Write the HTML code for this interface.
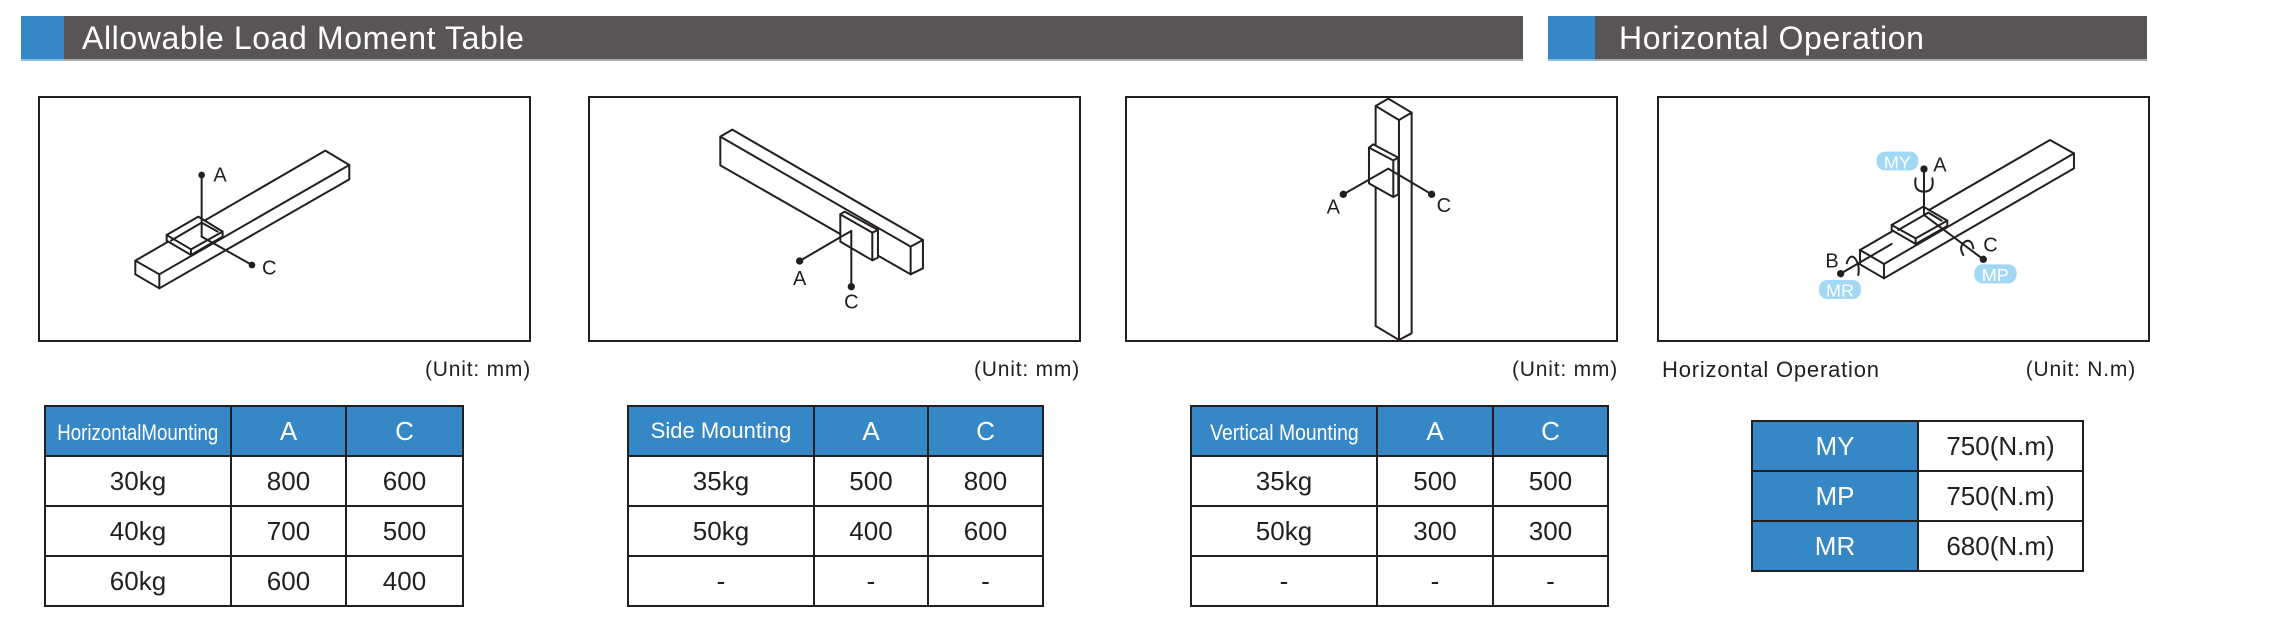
<!DOCTYPE html>
<html><head><meta charset="utf-8"><style>
*{margin:0;padding:0;box-sizing:border-box}
body{width:2276px;height:624px;background:#fff;position:relative;overflow:hidden;font-family:"Liberation Sans",sans-serif;color:#231f20}
.bar{position:absolute;top:16px;height:45px;background:#595557;border-bottom:2px solid #aaa}
.blue{position:absolute;top:16px;height:45px;background:#3587c6;border-bottom:2px solid #8bbde0}
.title{position:absolute;top:19px;color:#fff;font-size:32px;line-height:38px;letter-spacing:0.6px}
.box{position:absolute;top:96px;height:246px;border:2.5px solid #231f20}
.unit{position:absolute;top:357px;font-size:21px;line-height:26px;letter-spacing:0.8px}
table{position:absolute;border-collapse:collapse;table-layout:fixed}
td{border:2.5px solid #231f20;text-align:center;font-size:26px;height:50px;padding:0}
td.h{background:#3587c6;color:#fff;font-size:26px}
</style></head><body>
<div class="blue" style="left:21px;width:43px"></div>
<div class="bar" style="left:64px;width:1459px"></div>
<div class="title" style="left:82px">Allowable Load Moment Table</div>
<div class="blue" style="left:1548px;width:47px"></div>
<div class="bar" style="left:1595px;width:552px"></div>
<div class="title" style="left:1619px">Horizontal Operation</div>

<div class="box" style="left:38px;width:493px"></div>
<div class="box" style="left:588px;width:493px"></div>
<div class="box" style="left:1125px;width:493px"></div>
<div class="box" style="left:1657px;width:493px"></div>

<div class="unit" style="right:1745px">(Unit: mm)</div>
<div class="unit" style="right:1196px">(Unit: mm)</div>
<div class="unit" style="right:658px">(Unit: mm)</div>
<div class="unit" style="left:1662px;font-size:22px">Horizontal Operation</div>
<div class="unit" style="right:140px">(Unit: N.m)</div>

<svg width="2276" height="624" style="position:absolute;left:0;top:0" fill="none" stroke="#231f20" stroke-linejoin="round" stroke-linecap="round">
<g transform="translate(36 90) scale(0.3333)" stroke-width="6">
 <polygon points="298,512 868,182 940,225 940,268 370,595 298,553" fill="#fff"/>
 <line x1="298" y1="512" x2="370" y2="553"/><line x1="370" y1="553" x2="940" y2="225"/><line x1="370" y1="553" x2="370" y2="595"/>
 <polygon points="392,435 487,380 560,425 560,440 465,495 392,452" fill="#fff"/>
 <polyline points="392,435 465,478 560,425"/><line x1="465" y1="478" x2="465" y2="495"/>
 <polyline points="405,452 497,398 545,425"/>
 <line x1="497" y1="255" x2="497" y2="440"/><line x1="497" y1="440" x2="648" y2="525"/>
 <circle cx="497" cy="255" r="10" fill="#231f20" stroke="none"/><circle cx="648" cy="525" r="10" fill="#231f20" stroke="none"/>
 <text x="532" y="275" font-size="60" fill="#231f20" stroke="none">A</text>
 <text x="678" y="553" font-size="60" fill="#231f20" stroke="none">C</text>
</g>
<g transform="translate(588 96) scale(0.3333)" stroke-width="6">
 <polygon points="397,122 433,101 1005,432 1005,517 968,535 397,208" fill="#fff"/>
 <line x1="397" y1="122" x2="968" y2="452"/><line x1="968" y1="452" x2="1005" y2="432"/><line x1="968" y1="452" x2="968" y2="535"/>
 <polygon points="757,355 770,347 870,402 870,485 853,493 757,437" fill="#fff"/>
 <polyline points="757,355 853,410 870,402"/><line x1="853" y1="410" x2="853" y2="493"/>
 <line x1="790" y1="405" x2="790" y2="572"/><polyline points="790,405 760,422 635,495"/>
 <circle cx="635" cy="495" r="11" fill="#231f20" stroke="none"/><circle cx="790" cy="572" r="11" fill="#231f20" stroke="none"/>
 <text x="635" y="567" font-size="60" text-anchor="middle" fill="#231f20" stroke="none">A</text>
 <text x="790" y="637" font-size="60" text-anchor="middle" fill="#231f20" stroke="none">C</text>
</g>
<g transform="translate(1125 96) scale(0.3333)" stroke-width="6">
 <polygon points="752,30 790,8 860,50 860,712 822,732 752,690" fill="#fff"/>
 <polyline points="752,30 822,72 860,50"/><line x1="822" y1="72" x2="822" y2="732"/>
 <polygon points="732,155 745,145 820,185 820,295 805,303 732,262" fill="#fff"/>
 <polyline points="732,155 805,193 820,185"/><line x1="805" y1="193" x2="805" y2="303"/>
 <polyline points="655,295 790,218 920,295"/>
 <circle cx="655" cy="295" r="11" fill="#231f20" stroke="none"/><circle cx="920" cy="295" r="11" fill="#231f20" stroke="none"/>
 <text x="605" y="352" font-size="60" fill="#231f20" stroke="none">A</text>
 <text x="935" y="348" font-size="60" fill="#231f20" stroke="none">C</text>
</g>
<g transform="translate(1650 90) scale(0.3333)" stroke-width="6">
 <polygon points="630,480 1200,150 1272,190 1272,235 702,565 630,523" fill="#fff"/>
 <line x1="630" y1="480" x2="702" y2="522"/><line x1="702" y1="522" x2="1272" y2="190"/><line x1="702" y1="522" x2="702" y2="565"/>
 <polygon points="725,405 820,350 892,392 892,408 797,462 725,420" fill="#fff"/>
 <polyline points="725,405 797,445 892,392"/><line x1="797" y1="445" x2="797" y2="462"/>
 <polyline points="745,420 835,368 875,392"/>
 <line x1="822" y1="237" x2="822" y2="375"/><line x1="822" y1="375" x2="1000" y2="508"/><line x1="572" y1="551" x2="725" y2="462"/>
 <path d="M797,265 Q790,305 822,305 Q854,305 847,265"/>
 <path d="M590,520 Q600,490 615,505 Q630,525 625,555"/>
 <path d="M940,495 Q925,470 945,455 Q965,445 970,475"/>
 <circle cx="822" cy="237" r="11" fill="#231f20" stroke="none"/><circle cx="1000" cy="508" r="11" fill="#231f20" stroke="none"/><circle cx="572" cy="551" r="11" fill="#231f20" stroke="none"/>
 <text x="850" y="245" font-size="60" fill="#231f20" stroke="none">A</text>
 <text x="1000" y="485" font-size="60" fill="#231f20" stroke="none">C</text>
 <text x="526" y="532" font-size="60" fill="#231f20" stroke="none">B</text>
 <rect x="680" y="185" width="125" height="56" rx="25" fill="#a3d8f4" stroke="none"/>
 <rect x="507" y="570" width="126" height="57" rx="25" fill="#a3d8f4" stroke="none"/>
 <rect x="973" y="523" width="127" height="57" rx="25" fill="#a3d8f4" stroke="none"/>
 <text x="742" y="235" font-size="54" text-anchor="middle" fill="#fff" stroke="none">MY</text>
 <text x="570" y="620" font-size="54" text-anchor="middle" fill="#fff" stroke="none">MR</text>
 <text x="1036" y="573" font-size="54" text-anchor="middle" fill="#fff" stroke="none">MP</text>
</g>
</svg>

<table style="left:44px;top:405px;width:418px">
<colgroup><col style="width:186px"><col style="width:115px"><col style="width:117px"></colgroup>
<tr><td class="h"><span style="display:inline-block;font-size:22px;transform:scaleX(0.85);white-space:nowrap;margin:0 -14px">HorizontalMounting</span></td><td class="h">A</td><td class="h">C</td></tr>
<tr><td>30kg</td><td>800</td><td>600</td></tr>
<tr><td>40kg</td><td>700</td><td>500</td></tr>
<tr><td>60kg</td><td>600</td><td>400</td></tr>
</table>
<table style="left:627px;top:405px;width:415px">
<colgroup><col style="width:186px"><col style="width:114px"><col style="width:115px"></colgroup>
<tr><td class="h" style="font-size:22px">Side Mounting</td><td class="h">A</td><td class="h">C</td></tr>
<tr><td>35kg</td><td>500</td><td>800</td></tr>
<tr><td>50kg</td><td>400</td><td>600</td></tr>
<tr><td>-</td><td>-</td><td>-</td></tr>
</table>
<table style="left:1190px;top:405px;width:417px">
<colgroup><col style="width:186px"><col style="width:116px"><col style="width:115px"></colgroup>
<tr><td class="h"><span style="display:inline-block;font-size:22px;transform:scaleX(0.88);white-space:nowrap;margin:0 -10px">Vertical Mounting</span></td><td class="h">A</td><td class="h">C</td></tr>
<tr><td>35kg</td><td>500</td><td>500</td></tr>
<tr><td>50kg</td><td>300</td><td>300</td></tr>
<tr><td>-</td><td>-</td><td>-</td></tr>
</table>
<table style="left:1751px;top:420px;width:331px">
<colgroup><col style="width:166px"><col style="width:165px"></colgroup>
<tr><td class="h">MY</td><td>750(N.m)</td></tr>
<tr><td class="h">MP</td><td>750(N.m)</td></tr>
<tr><td class="h">MR</td><td>680(N.m)</td></tr>
</table>
</body></html>
